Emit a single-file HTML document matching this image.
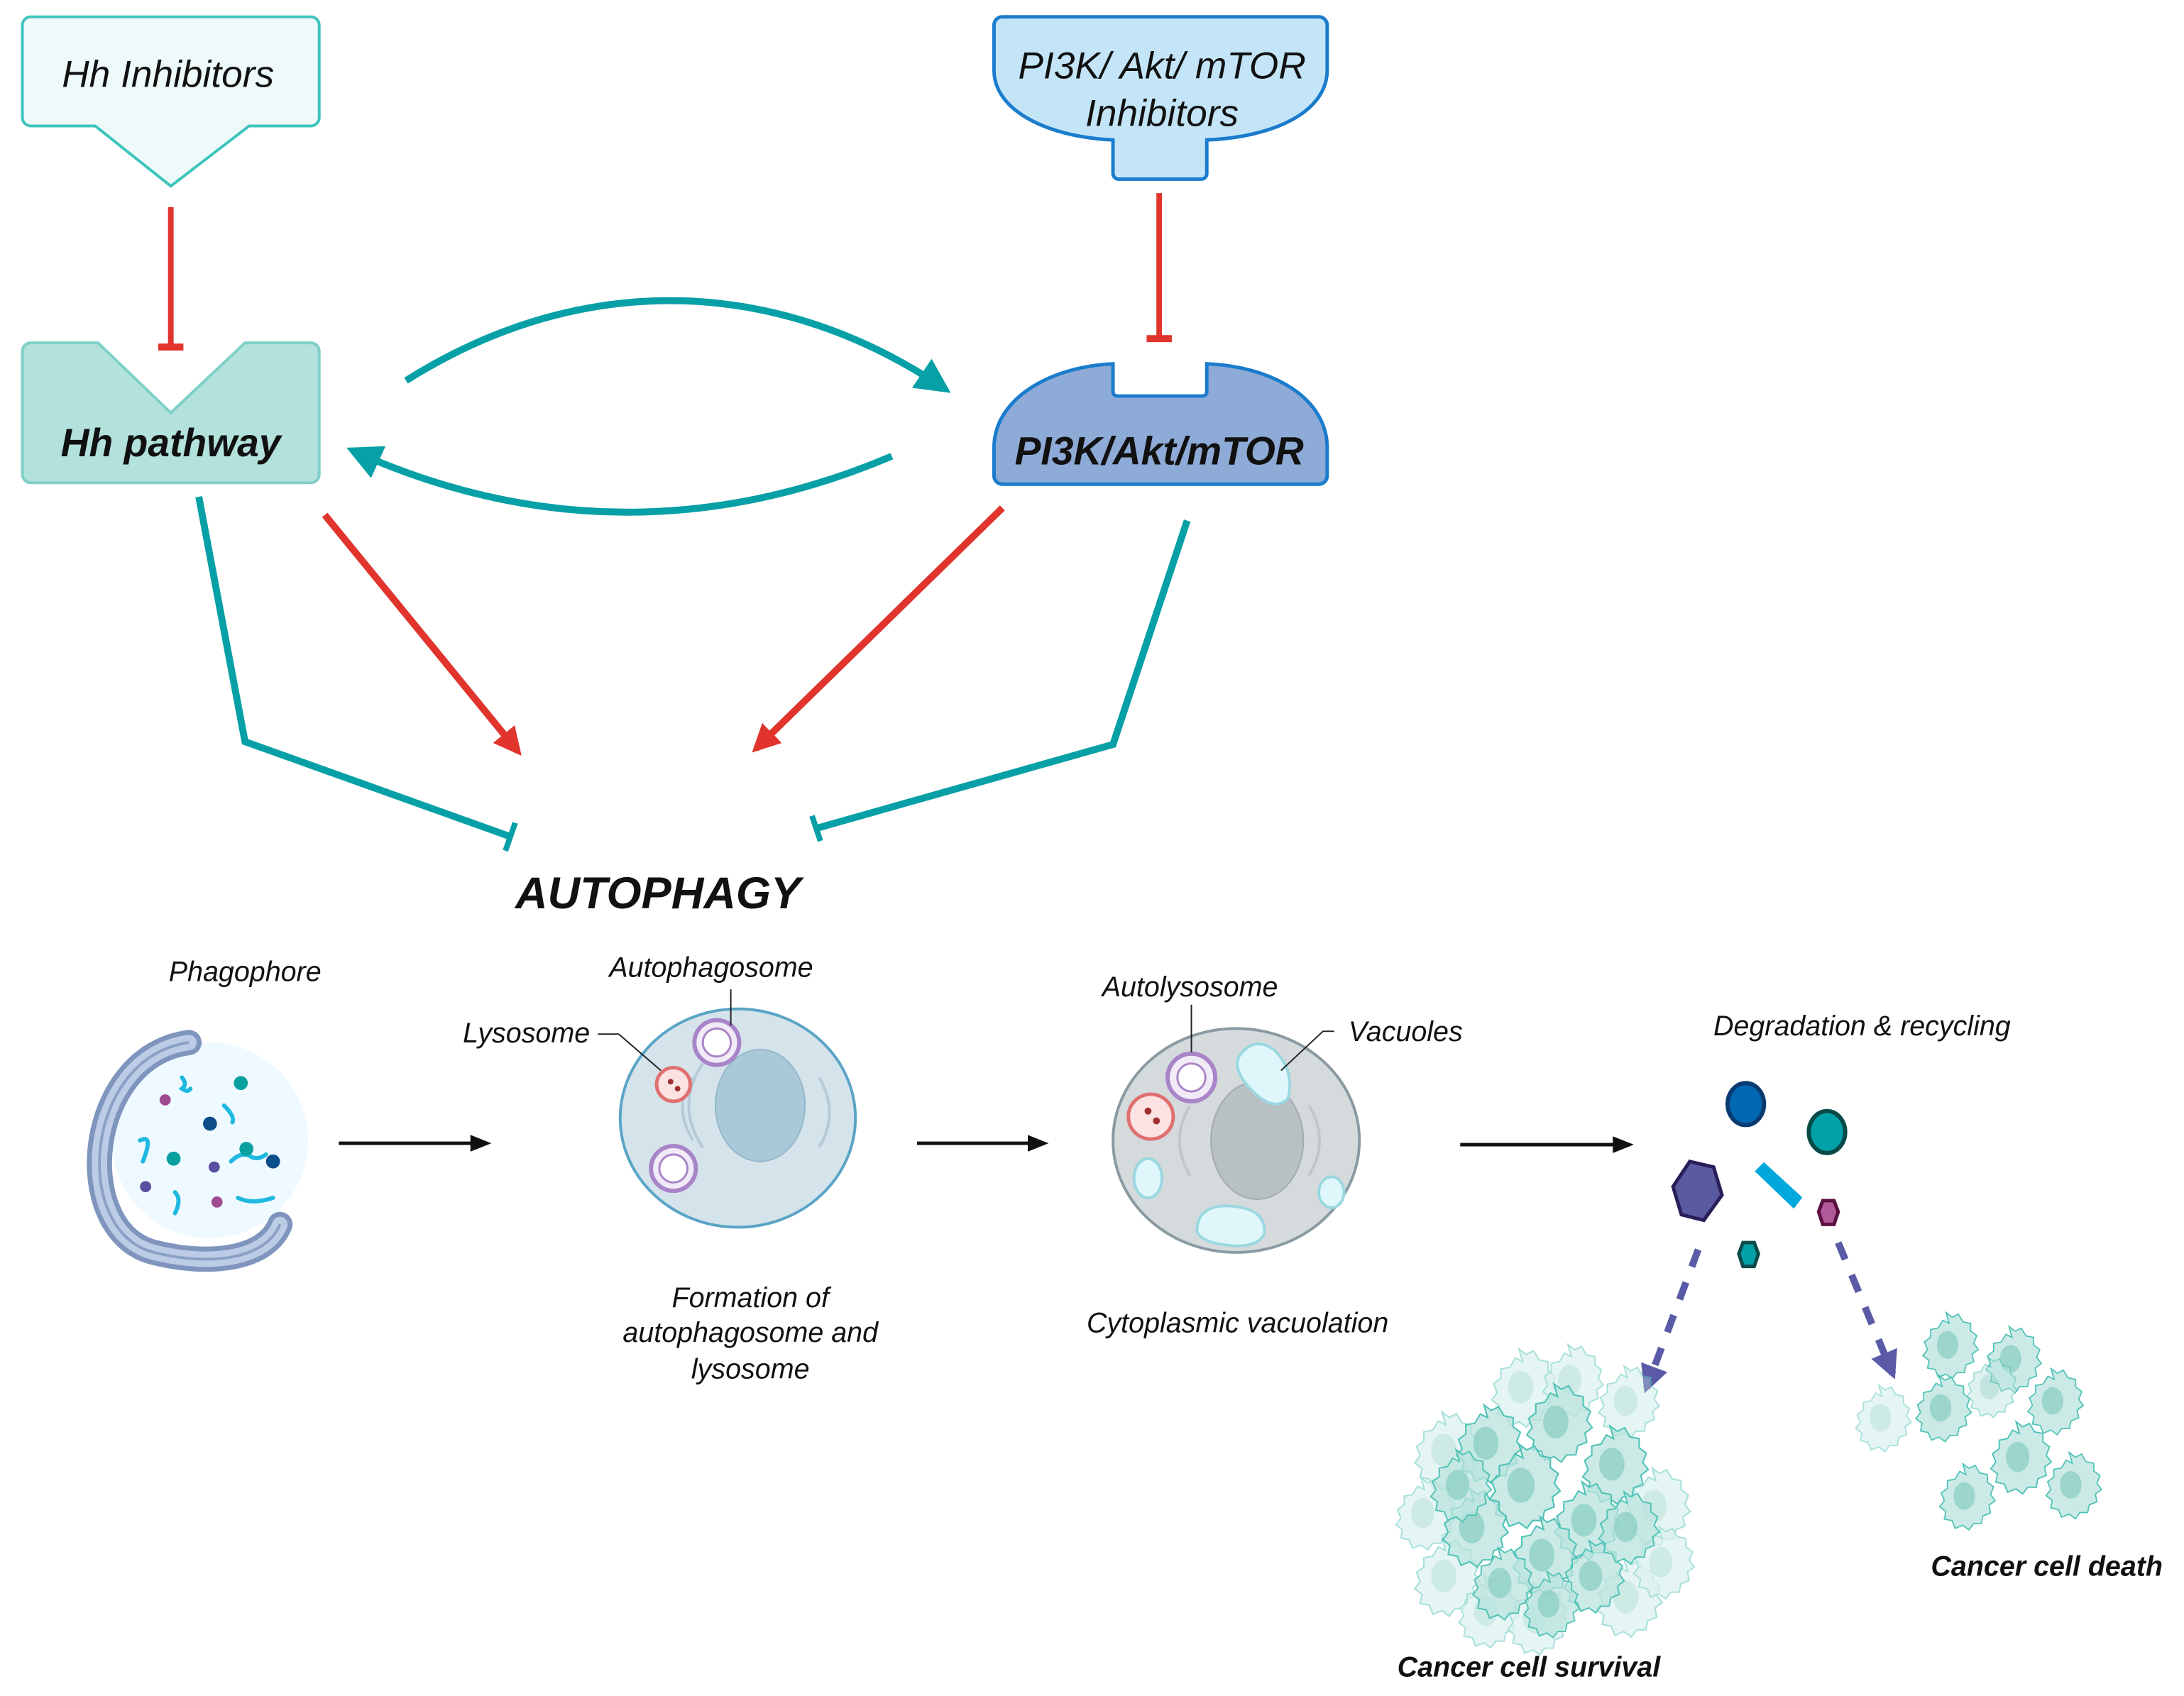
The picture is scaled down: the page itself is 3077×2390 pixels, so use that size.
<!DOCTYPE html>
<html><head><meta charset="utf-8"><style>
html,body{margin:0;padding:0;background:#fff;}
svg{display:block;}
text{font-family:"Liberation Sans",sans-serif;font-style:italic;fill:#111;}
</style></head><body>
<svg width="3077" height="2390" viewBox="0 0 1560 1212" preserveAspectRatio="none" xmlns="http://www.w3.org/2000/svg">
<defs>
<marker id="ar" viewBox="0 0 10 10" refX="8" refY="5" markerWidth="4" markerHeight="4" orient="auto"><path d="M0,0L10,5L0,10z" fill="#e0342c"/></marker>
<marker id="at" viewBox="0 0 10 10" refX="8" refY="5" markerWidth="5" markerHeight="5" orient="auto"><path d="M0,0L10,5L0,10z" fill="#07a0a6"/></marker>
<marker id="ak" viewBox="0 0 10 10" refX="8" refY="5" markerWidth="6" markerHeight="6" orient="auto"><path d="M0,1L10,5L0,9z" fill="#111"/></marker>
<marker id="ap" viewBox="0 0 10 10" refX="8" refY="5" markerWidth="4" markerHeight="4" orient="auto"><path d="M0,0L10,5L0,10z" fill="#5a5aa6"/></marker>
<g id="cc"><path d="M0,-20 l4,3 4,-2 3,5 5,1 0,5 4,3 -2,5 3,4 -4,3 1,5 -5,2 -1,5 -5,0 -3,4 -4,-3 -5,2 -2,-5 -5,-1 1,-5 -4,-3 3,-4 -2,-5 4,-3 0,-5 5,-1 3,-5 4,2z" fill="#b9e3dd" fill-opacity="0.75" stroke="#4fc2b6" stroke-width="0.8"/><ellipse cx="1" cy="1" rx="7" ry="9" fill="#8fd0c6" opacity="0.8"/></g>
</defs>

<path d="M22,12H222a6,6 0 0 1 6,6V84a6,6 0 0 1 -6,6H178L122,133L68,90H22a6,6 0 0 1 -6,-6V18a6,6 0 0 1 6,-6z" fill="#eef9f9" stroke="#3cc4bc" stroke-width="2"/>
<text x="120" y="62" font-size="27" text-anchor="middle">Hh Inhibitors</text>
<line x1="122" y1="148" x2="122" y2="248" stroke="#e0342c" stroke-width="4"/>
<line x1="113" y1="248" x2="131" y2="248" stroke="#e0342c" stroke-width="5"/>

<path d="M22,245H70L122,295L175,245H222a6,6 0 0 1 6,6V339a6,6 0 0 1 -6,6H22a6,6 0 0 1 -6,-6V251a6,6 0 0 1 6,-6z" fill="#b3e1dc" stroke="#7dd0c8" stroke-width="2"/>
<text x="122" y="326" font-size="28" font-weight="bold" text-anchor="middle">Hh pathway</text>

<path d="M716,12H942a6,6 0 0 1 6,6V50C948,80 910,98 862,100V124a4,4 0 0 1 -4,4H799a4,4 0 0 1 -4,-4V100C750,98 710,80 710,50V18a6,6 0 0 1 6,-6z" fill="#c4e5f8" stroke="#1a7ccc" stroke-width="2.5"/>
<text x="830" y="56" font-size="27" text-anchor="middle">PI3K/ Akt/ mTOR</text>
<text x="830" y="90" font-size="27" text-anchor="middle">Inhibitors</text>
<line x1="828" y1="138" x2="828" y2="242" stroke="#e0342c" stroke-width="4"/>
<line x1="819" y1="242" x2="837" y2="242" stroke="#e0342c" stroke-width="5"/>

<path d="M795,260V280a3,3 0 0 0 3,3H859a3,3 0 0 0 3,-3V260C910,262 948,285 948,320V340a6,6 0 0 1 -6,6H716a6,6 0 0 1 -6,-6V320C710,285 750,262 795,260z" fill="#8eaad6" stroke="#1a7ccc" stroke-width="2.5"/>
<text x="828" y="332" font-size="28" font-weight="bold" text-anchor="middle">PI3K/Akt/mTOR</text>

<path d="M290,272C420,190 560,200 675,278" fill="none" stroke="#07a0a6" stroke-width="5" marker-end="url(#at)"/>
<path d="M637,326C510,380 380,380 252,322" fill="none" stroke="#07a0a6" stroke-width="5" marker-end="url(#at)"/>

<line x1="232" y1="368" x2="370" y2="537" stroke="#e0342c" stroke-width="5" marker-end="url(#ar)"/>
<line x1="716" y1="363" x2="540" y2="535" stroke="#e0342c" stroke-width="5" marker-end="url(#ar)"/>

<polyline points="142,355 175,530 365,598" fill="none" stroke="#07a0a6" stroke-width="5"/>
<line x1="361" y1="608" x2="368" y2="588" stroke="#07a0a6" stroke-width="4"/>
<polyline points="848,372 795,532 583,592" fill="none" stroke="#07a0a6" stroke-width="5"/>
<line x1="580" y1="583" x2="586" y2="601" stroke="#07a0a6" stroke-width="4"/>

<text x="470" y="649" font-size="32" font-weight="bold" text-anchor="middle">AUTOPHAGY</text>

<text x="175" y="701" font-size="20" text-anchor="middle">Phagophore</text>
<text x="508" y="698" font-size="20" text-anchor="middle">Autophagosome</text>
<text x="376" y="745" font-size="20" text-anchor="middle">Lysosome</text>
<text x="850" y="712" font-size="20" text-anchor="middle">Autolysosome</text>
<text x="1004" y="744" font-size="20" text-anchor="middle">Vacuoles</text>
<text x="1330" y="740" font-size="20" text-anchor="middle">Degradation &amp; recycling</text>
<text x="536" y="934" font-size="20" text-anchor="middle">Formation of</text>
<text x="536" y="959" font-size="20" text-anchor="middle">autophagosome and</text>
<text x="536" y="985" font-size="20" text-anchor="middle">lysosome</text>
<text x="884" y="952" font-size="20" text-anchor="middle">Cytoplasmic vacuolation</text>
<text x="1092" y="1198" font-size="20" font-weight="bold" text-anchor="middle">Cancer cell survival</text>
<text x="1462" y="1126" font-size="20" font-weight="bold" text-anchor="middle">Cancer cell death</text>

<line x1="242" y1="817" x2="348" y2="817" stroke="#111" stroke-width="2.5" marker-end="url(#ak)"/>
<line x1="655" y1="817" x2="746" y2="817" stroke="#111" stroke-width="2.5" marker-end="url(#ak)"/>
<line x1="1043" y1="818" x2="1164" y2="818" stroke="#111" stroke-width="2.5" marker-end="url(#ak)"/>

<circle cx="150" cy="815" r="70" fill="#eefaff"/>
<path d="M135,745C60,755 50,880 110,895C150,905 190,900 200,875" fill="none" stroke="#7f95bd" stroke-width="18" stroke-linecap="round"/>
<path d="M135,745C60,755 50,880 110,895C150,905 190,900 200,875" fill="none" stroke="#bccbe6" stroke-width="11" stroke-linecap="round"/>
<path d="M135,745C60,755 50,880 110,895C150,905 190,900 200,875" fill="none" stroke="#8aa0c6" stroke-width="2"/>
<g fill="none" stroke="#1fb8e0" stroke-width="3" stroke-linecap="round">
<path d="M130,770q4,5 0,8q4,3 6,0"/><path d="M100,815q10,-5 2,15"/><path d="M165,830q8,-8 15,-3q5,2 10,-2"/><path d="M125,852q5,5 0,15"/><path d="M170,856q10,5 25,0"/><path d="M160,790q8,8 6,12"/></g>
<circle cx="172" cy="774" r="5" fill="#0aa0a0"/><circle cx="150" cy="803" r="5" fill="#0b4e8a"/><circle cx="176" cy="821" r="5" fill="#0aa0a0"/><circle cx="124" cy="828" r="5" fill="#0aa0a0"/><circle cx="195" cy="830" r="5" fill="#0b4e8a"/>
<circle cx="118" cy="786" r="4" fill="#a04a92"/><circle cx="153" cy="834" r="4" fill="#5a4ea0"/><circle cx="104" cy="848" r="4" fill="#5a4ea0"/><circle cx="155" cy="859" r="4" fill="#a04a92"/>

<ellipse cx="527" cy="799" rx="84" ry="78" fill="#d5e3eb" stroke="#5aa4c6" stroke-width="2"/>
<ellipse cx="543" cy="790" rx="32" ry="40" fill="#a9c8d8" stroke="#94b8cc"/>
<path d="M495,770q-15,20 0,45M502,760q-20,30 0,60M585,770q15,25 0,50" fill="none" stroke="#b5cad6" stroke-width="2"/>
<circle cx="512" cy="745" r="16" fill="#f1eaf7" stroke="#a884c8" stroke-width="3"/><circle cx="512" cy="745" r="10" fill="#fff" stroke="#a884c8" stroke-width="1.5"/>
<circle cx="481" cy="835" r="16" fill="#f1eaf7" stroke="#a884c8" stroke-width="3"/><circle cx="481" cy="835" r="10" fill="#fff" stroke="#a884c8" stroke-width="1.5"/>
<circle cx="481" cy="775" r="12" fill="#fbe3e3" stroke="#e07070" stroke-width="2.5"/>
<circle cx="479" cy="773" r="2" fill="#a03030"/><circle cx="484" cy="778" r="2" fill="#a03030"/>
<line x1="427" y1="739" x2="442" y2="739" stroke="#222"/><line x1="442" y1="739" x2="472" y2="765" stroke="#222"/>
<line x1="522" y1="707" x2="522" y2="733" stroke="#222"/>

<ellipse cx="883" cy="815" rx="88" ry="80" fill="#d5dadd" stroke="#8a9aa2" stroke-width="2"/>
<ellipse cx="898" cy="815" rx="33" ry="42" fill="#b8c0c4" stroke="#a0aab0"/>
<path d="M850,790q-15,25 0,50M935,790q15,25 0,50" fill="none" stroke="#c0c6ca" stroke-width="2"/>
<path d="M885,755q10,-15 25,-5q15,15 10,35q-10,10 -25,-5q-15,-15 -10,-25z" fill="#dff7fa" stroke="#9ad8e0" stroke-width="2"/>
<path d="M855,880q0,-20 25,-18q25,2 23,20q-5,10 -25,8q-20,-2 -23,-10z" fill="#dff7fa" stroke="#9ad8e0" stroke-width="2"/>
<ellipse cx="820" cy="842" rx="10" ry="14" fill="#dff7fa" stroke="#9ad8e0" stroke-width="2"/>
<ellipse cx="951" cy="852" rx="9" ry="11" fill="#dff7fa" stroke="#9ad8e0" stroke-width="2"/>
<circle cx="851" cy="770" r="17" fill="#f1eaf7" stroke="#a884c8" stroke-width="3"/><circle cx="851" cy="770" r="10" fill="#fff" stroke="#a884c8" stroke-width="1.5"/>
<circle cx="822" cy="798" r="16" fill="#fbe3e3" stroke="#e07070" stroke-width="2.5"/>
<circle cx="820" cy="794" r="2.5" fill="#a03030"/><circle cx="826" cy="801" r="2.5" fill="#a03030"/>
<line x1="851" y1="718" x2="851" y2="752" stroke="#222"/>
<polyline points="953,737 945,737 915,765" fill="none" stroke="#222"/>

<ellipse cx="1247" cy="789" rx="13" ry="15" fill="#0067b0" stroke="#0a3a70" stroke-width="3"/>
<ellipse cx="1305" cy="809" rx="13" ry="15" fill="#00a0a8" stroke="#0a4a48" stroke-width="3"/>
<path d="M1207,830l17,4 6,20 -13,18 -16,-4 -6,-20z" fill="#5a5aa0" stroke="#2a1e5a" stroke-width="2.5"/>
<path d="M1257,837l3,-3 24,22 -3,4z" fill="#00a8dc" stroke="#00a8dc" stroke-width="5"/>
<path d="M1302,858l8,0 3,8 -3,9 -8,0 -3,-9z" fill="#b05a9a" stroke="#5a1040" stroke-width="2.5"/>
<path d="M1245,888l8,0 3,8 -3,9 -8,0 -3,-9z" fill="#00a0a8" stroke="#0a4a48" stroke-width="2.5"/>
<line x1="1213" y1="893" x2="1176" y2="992" stroke="#5a5aa6" stroke-width="5" stroke-dasharray="13,12" marker-end="url(#ap)"/>
<line x1="1313" y1="888" x2="1352" y2="982" stroke="#5a5aa6" stroke-width="5" stroke-dasharray="13,12" marker-end="url(#ap)"/>

<!-- survival cluster (dense) -->
<g opacity="0.5">
<use href="#cc" transform="translate(1030,1035) scale(1.3)"/><use href="#cc" transform="translate(1180,1075) scale(1.3)"/><use href="#cc" transform="translate(1030,1125) scale(1.3)"/><use href="#cc" transform="translate(1085,990) scale(1.3)"/><use href="#cc" transform="translate(1160,1000) scale(1.2)"/><use href="#cc" transform="translate(1160,1140) scale(1.3)"/><use href="#cc" transform="translate(1015,1080) scale(1.2)"/><use href="#cc" transform="translate(1185,1115) scale(1.2)"/><use href="#cc" transform="translate(1120,985) scale(1.2)"/><use href="#cc" transform="translate(1060,1150) scale(1.2)"/><use href="#cc" transform="translate(1095,1155) scale(1.2)"/></g>
<use href="#cc" transform="translate(1060,1030) scale(1.3)"/><use href="#cc" transform="translate(1110,1015) scale(1.3)"/><use href="#cc" transform="translate(1150,1045) scale(1.3)"/><use href="#cc" transform="translate(1085,1060) scale(1.4)"/><use href="#cc" transform="translate(1130,1085) scale(1.3)"/><use href="#cc" transform="translate(1050,1090) scale(1.3)"/><use href="#cc" transform="translate(1100,1110) scale(1.3)"/><use href="#cc" transform="translate(1070,1130) scale(1.2)"/><use href="#cc" transform="translate(1135,1125) scale(1.2)"/><use href="#cc" transform="translate(1040,1060) scale(1.2)"/><use href="#cc" transform="translate(1160,1090) scale(1.2)"/><use href="#cc" transform="translate(1105,1145) scale(1.1)"/>
<!-- death cluster -->
<use href="#cc" transform="translate(1390,960) scale(1.1)"/><use href="#cc" transform="translate(1435,970) scale(1.1)"/><use href="#cc" transform="translate(1465,1000) scale(1.1)"/><use href="#cc" transform="translate(1385,1005) scale(1.1)"/><use href="#cc" transform="translate(1440,1040) scale(1.2)"/><use href="#cc" transform="translate(1402,1068) scale(1.1)"/><use href="#cc" transform="translate(1478,1060) scale(1.1)"/><use href="#cc" transform="translate(1342,1012) scale(1.1)" opacity="0.5"/><use href="#cc" transform="translate(1420,990) scale(1.0)" opacity="0.6"/>
</svg>
</body></html>
